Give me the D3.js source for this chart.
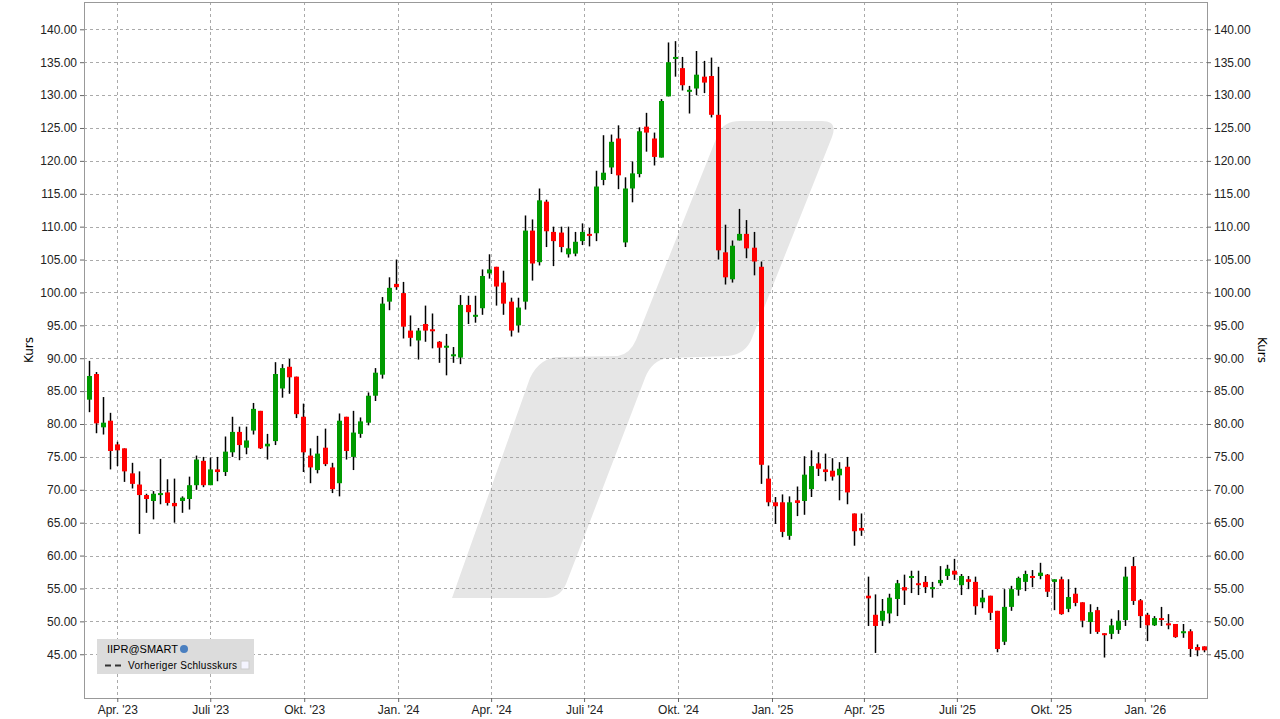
<!DOCTYPE html>
<html><head><meta charset="utf-8">
<script src="https://cdn.jsdelivr.net/npm/d3@7/dist/d3.min.js"></script>
<style>body{margin:0;background:#fff}svg{display:block;font-family:"DejaVu Sans",sans-serif}</style>
</head><body><svg id="c" width="1280" height="719"></svg>
<script>
// weekly candles [open, high, low, close], starting week of 2023-03-04
const startDate = new Date(2023, 2, 4);
const ohlc = [
[83.7,89.6,81.8,87.3],[87.6,87.9,78.6,80.1],[79.5,84.1,78.4,80.2],[80.5,81.7,73.1,75.9],[76.9,77.3,73.6,76.0],
[76.3,76.3,71.2,72.8],[72.5,74.1,70.2,70.9],[70.8,72.8,63.3,69.2],[69.2,69.4,66.5,68.6],[68.3,69.8,65.5,69.4],
[69.2,74.7,67.8,69.5],[69.6,71.6,67.6,68.0],[68.0,71.7,65.0,67.5],[68.3,69.0,66.5,68.8],[68.6,72.0,67.0,70.7],
[70.7,75.2,70.0,74.6],[74.4,75.0,70.4,70.7],[70.7,74.9,70.7,73.1],[73.1,75.0,71.3,72.7],[72.7,78.1,72.1,75.8],
[75.7,81.1,75.0,78.8],[78.8,79.6,74.5,76.8],[76.4,79.6,75.4,77.5],[79.0,83.2,78.4,82.3],[82.0,82.0,76.2,76.3],
[76.6,78.5,74.6,77.0],[77.4,89.4,76.8,87.6],[85.4,89.1,84.0,88.5],[88.7,89.9,84.6,87.1],[87.2,87.2,80.9,81.5],
[81.1,83.1,72.7,75.7],[75.2,76.3,71.0,73.4],[73.0,78.2,72.5,75.5],[76.4,79.3,73.6,73.9],[73.4,74.1,69.5,70.1],
[71.0,81.6,69.0,80.5],[81.1,81.1,74.6,75.9],[75.0,82.0,73.0,78.7],[78.5,81.0,77.9,80.4],[80.2,84.8,79.8,84.3],
[84.3,88.5,83.5,87.8],[87.5,99.3,86.9,98.3],[98.6,102.3,97.3,100.7],[101.3,105.0,100.4,100.8],[99.9,101.6,93.0,94.8],
[94.2,96.5,91.8,93.1],[92.7,94.6,89.8,94.2],[95.2,98.0,92.5,94.2],[94.4,96.8,91.5,94.2],[92.5,92.6,89.3,91.6],
[91.6,93.7,87.4,91.9],[90.4,91.7,89.3,90.6],[90.1,99.6,89.1,98.1],[98.1,99.5,95.2,97.0],[96.4,99.5,95.4,96.6],
[97.6,103.5,96.6,102.5],[102.9,105.8,102.1,103.5],[103.9,103.9,98.0,100.9],[101.5,103.3,96.6,98.3],[98.6,99.2,93.3,94.2],
[95.0,99.2,93.9,97.7],[98.6,111.7,97.4,109.4],[109.4,111.1,101.8,104.4],[104.6,115.8,104.1,114.0],[113.8,114.1,106.9,109.3],
[109.2,110.0,104.0,107.8],[109.1,110.0,106.1,106.9],[105.8,110.0,105.3,106.7],[105.9,109.2,105.5,107.7],[107.8,110.5,107.2,109.2],
[108.9,109.8,107.0,108.7],[109.0,118.5,107.8,116.1],[117.1,123.9,116.3,118.2],[119.0,124.0,118.0,122.9],[123.4,125.4,115.7,117.8],
[107.6,117.5,106.9,115.8],[115.8,119.9,113.7,118.1],[118.0,125.1,117.5,124.5],[125.2,127.3,121.4,124.3],[123.4,124.3,119.3,120.6],
[120.5,129.4,120.5,129.1],[129.8,138.0,129.8,135.0],[135.6,138.2,132.8,135.8],[134.1,135.8,130.7,131.5],[130.5,131.4,127.2,130.8],
[131.0,136.7,130.0,133.1],[132.8,135.2,130.3,131.9],[132.9,135.7,126.6,127.0],[127.0,134.3,105.0,106.4],[106.1,110.3,101.2,102.3],
[102.0,107.9,101.5,107.1],[107.9,112.7,107.9,108.9],[108.9,111.0,105.2,106.7],[106.8,109.2,102.6,104.7],[103.9,104.7,70.9,73.8],
[71.7,73.7,67.5,68.1],[68.1,68.9,64.8,67.5],[68.1,69.3,62.8,63.6],[63.0,69.0,62.4,68.1],[68.4,70.5,66.0,68.0],
[68.3,75.1,66.2,72.3],[70.1,76.0,68.9,73.6],[74.0,75.7,72.1,73.2],[73.1,75.5,71.3,72.7],[72.9,74.8,71.4,72.0],
[72.2,74.2,68.4,73.2],[73.5,75.0,67.8,69.6],[66.4,66.4,61.5,63.7],[64.2,66.4,63.0,63.8],[53.9,56.8,49.3,53.5],
[51.0,54.1,45.2,49.3],[50.1,53.4,49.3,51.6],[51.2,54.2,49.7,53.6],[53.4,56.3,50.8,55.8],[55.2,57.1,52.5,54.7],
[56.6,57.7,54.3,56.9],[55.8,57.7,54.0,55.5],[56.0,56.9,54.3,55.2],[55.0,56.0,53.6,55.2],[55.8,58.4,55.4,56.3],
[56.9,58.6,56.3,58.0],[57.7,59.5,56.3,57.1],[55.5,57.2,54.0,56.9],[56.4,56.9,54.9,56.0],[56.0,56.8,51.0,52.3],
[52.9,54.8,52.0,53.6],[53.9,53.9,50.2,51.3],[51.6,51.6,45.3,45.8],[46.9,54.9,46.4,52.2],[52.2,55.4,51.6,54.9],
[54.8,56.8,53.9,56.6],[56.0,57.7,54.6,57.2],[56.9,57.8,55.2,56.6],[56.9,58.9,56.4,57.4],[57.1,57.2,53.7,54.5],
[56.0,56.4,51.7,56.4],[56.4,56.8,51.0,51.1],[51.9,56.4,51.4,53.7],[54.2,55.1,52.3,52.8],[52.9,52.9,49.1,50.1],
[49.9,52.6,48.1,51.4],[51.7,52.2,48.1,48.4],[48.2,48.2,44.5,47.9],[48.1,50.4,47.3,49.4],[48.7,51.7,48.1,50.1],
[50.2,58.3,49.3,56.8],[58.4,59.8,52.5,53.1],[53.2,53.4,49.0,50.8],[51.0,51.3,47.0,49.4],[49.4,50.8,49.3,50.5],
[50.5,52.2,49.3,50.2],[49.7,51.1,48.8,49.4],[49.6,49.6,47.5,47.6],[48.2,49.6,47.5,48.5],[48.5,48.8,44.6,45.8],
[46.1,46.5,44.7,45.6],[46.2,46.2,45.3,45.6]
];
const yTicks = d3.range(45, 141, 5);
const xTickDates = [[2023,3],[2023,6],[2023,9],[2024,0],[2024,3],[2024,6],[2024,9],[2025,0],[2025,3],[2025,6],[2025,9],[2026,0]];
const monthNames = ["Jan.","","","Apr.","","","Juli","","","Okt.","",""];

const svg = d3.select("#c");
const L=84, R=1207, T=2, B=698;
const dayMs = 864e5;
const apr = new Date(2023,3,1).getTime();
const x = d3.scaleTime().domain([new Date(apr-32.6*dayMs), new Date(apr+1066.9*dayMs)]).range([L,R]);
const y = d3.scaleLinear().domain([38.35,144.15]).range([B,T]);
const data = ohlc.map((d,i)=>({date:new Date(startDate.getTime()+i*7*dayMs),o:d[0],h:d[1],l:d[2],c:d[3]}));

// watermark
svg.append("path").attr("fill","#e6e6e6")
 .attr("d","M452,598 L530,378 Q540,357 560,357 L618,356 Q630,354 636,340 L718,134 Q724,121 740,121 L822,121 Q838,121 832,137 L752,338 Q746,354 728,356 L668,358 Q652,360 645,378 L566,584 Q560,598 545,598 Z");

// grid
const g = svg.append("g");
g.selectAll(".hy").data(yTicks).join("line").attr("x1",L).attr("x2",R)
 .attr("y1",d=>Math.round(y(d))+0.5).attr("y2",d=>Math.round(y(d))+0.5).attr("stroke","#aaa").attr("stroke-dasharray","3,3");
const xd = xTickDates.map(d=>new Date(d[0],d[1],1));
g.selectAll(".vx").data(xd).join("line").attr("y1",T).attr("y2",B)
 .attr("x1",d=>Math.round(x(d))+0.5).attr("x2",d=>Math.round(x(d))+0.5).attr("stroke","#aaa").attr("stroke-dasharray","3,3");

// frame
svg.append("rect").attr("x",L+0.5).attr("y",T+0.5).attr("width",R-L).attr("height",B-T).attr("fill","none").attr("stroke","#999");

// axes
const yl = d3.axisLeft(y).tickValues(yTicks).tickFormat(d3.format(".2f")).tickSize(4);
const yr = d3.axisRight(y).tickValues(yTicks).tickFormat(d3.format(".2f")).tickSize(4);
const xa = d3.axisBottom(x).tickValues(xd).tickSize(4).tickFormat(d=>monthNames[d.getMonth()]+" '"+String(d.getFullYear()).slice(2));
[svg.append("g").attr("transform",`translate(${L},0)`).call(yl),svg.append("g").attr("transform",`translate(${R},0)`).call(yr),svg.append("g").attr("transform",`translate(0,${B})`).call(xa)]
 .forEach(a=>{a.select(".domain").remove();a.selectAll("line").attr("stroke","#666");a.selectAll("text").attr("font-size",12).attr("fill","#222");});

svg.append("text").attr("transform","translate(33,350) rotate(-90)").attr("text-anchor","middle").attr("font-size",12).text("Kurs");
svg.append("text").attr("transform","translate(1258,350) rotate(90)").attr("text-anchor","middle").attr("font-size",12).text("Kurs");

// candles
const cg = svg.append("g");
cg.selectAll(".w").data(data).join("line")
 .attr("x1",d=>Math.round(x(d.date))+0.5).attr("x2",d=>Math.round(x(d.date))+0.5)
 .attr("y1",d=>y(d.h)).attr("y2",d=>y(d.l)).attr("stroke","#000").attr("stroke-width",1.5);
cg.selectAll(".b").data(data).join("rect")
 .attr("x",d=>Math.round(x(d.date))-2).attr("width",5)
 .attr("y",d=>y(Math.max(d.o,d.c))).attr("height",d=>Math.max(2,Math.abs(y(d.o)-y(d.c))))
 .attr("fill",d=>d.c>=d.o?"#009a00":"#ff0000");

// legend
const lg = svg.append("g").attr("transform","translate(97,639)").attr("font-family","'Liberation Sans',Arial,sans-serif");
lg.append("rect").attr("width",157).attr("height",35).attr("fill","#dcdcdc");
lg.append("text").attr("x",10).attr("y",14).attr("font-size",11).text("IIPR@SMART");
lg.append("circle").attr("cx",87).attr("cy",10).attr("r",4).attr("fill","#4a7fc0");
lg.append("line").attr("x1",8).attr("x2",26).attr("y1",26.5).attr("y2",26.5).attr("stroke","#333").attr("stroke-width",2).attr("stroke-dasharray","6,4");
lg.append("text").attr("x",31).attr("y",30).attr("font-size",10).attr("letter-spacing",0.3).text("Vorheriger Schlusskurs");
lg.append("rect").attr("x",144).attr("y",22).attr("width",8).attr("height",8).attr("fill","#f4f4ff").attr("stroke","#ccc");
</script></body></html>
